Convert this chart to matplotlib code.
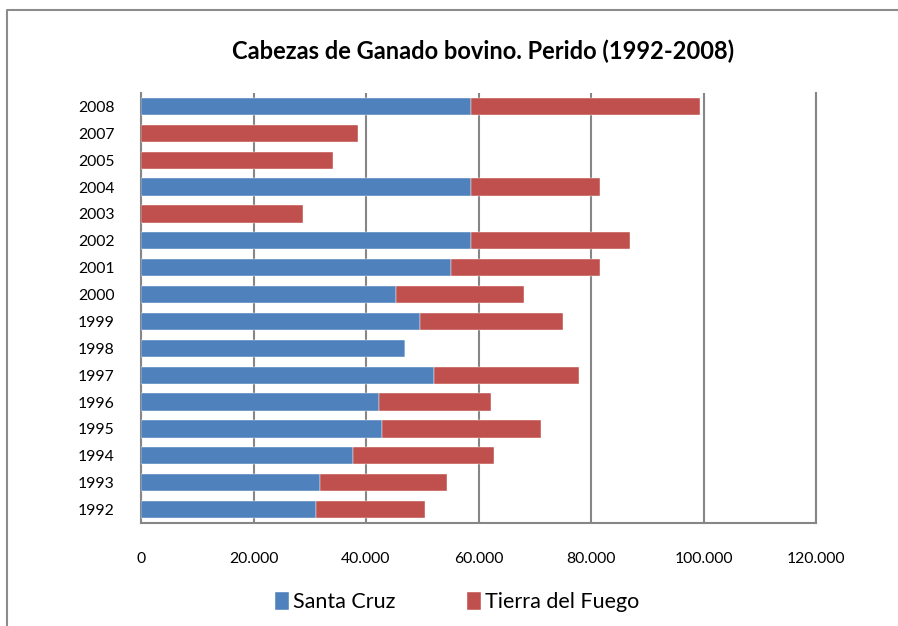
import matplotlib.pyplot as plt
from matplotlib.lines import Line2D

# data
years = ['1992', '1993', '1994', '1995', '1996', '1997', '1998', '1999',
         '2000', '2001', '2002', '2003', '2004', '2005', '2007', '2008']
santa_cruz = [31100, 31800, 37700, 42800, 42300, 52100, 46900, 49600,
              45300, 55100, 58700, 0, 58700, 0, 0, 58700]
tierra_fuego = [19400, 22600, 25100, 28300, 19900, 25800, 0, 25400,
                22800, 26500, 28200, 28800, 22900, 34100, 38600, 40700]

blue = '#4F81BD'
red = '#C0504D'
grid_col = '#868686'

plt.rcParams['font.family'] = ['Lato', 'DejaVu Sans']

fig = plt.figure(figsize=(8.98, 6.26), dpi=100)
ax = fig.add_axes([141 / 898, 1 - 523 / 626, (816 - 141) / 898, (523 - 93) / 626])

# outer chart frame (only top and left edges are inside the picture)
fx, fy = 7 / 898, 1 - 10 / 626
fig.lines.append(Line2D([fx, fx, 1.0], [0, fy, fy], transform=fig.transFigure,
                        color='#8c8c8c', linewidth=1.5))

pos = range(len(years))
ax.barh(pos, santa_cruz, height=0.64, color=blue, label='Santa Cruz',
        edgecolor='white', linewidth=0.3, zorder=3)
ax.barh(pos, tierra_fuego, height=0.64, left=santa_cruz, color=red,
        label='Tierra del Fuego', edgecolor='white', linewidth=0.3, zorder=3)

ax.set_xlim(0, 120000)
ax.set_ylim(-0.5, len(years) - 0.5)
ax.set_yticks(list(pos))
ax.set_yticklabels(years)
xt = [0, 20000, 40000, 60000, 80000, 100000, 120000]
ax.set_xticks(xt)
ax.set_xticklabels(['0'] + [f'{v:,}'.replace(',', '.') for v in xt[1:]])
ax.tick_params(axis='both', length=0, labelsize=11.3, colors='black')
ax.tick_params(axis='x', pad=21)
ax.tick_params(axis='y', pad=19)

ax.grid(axis='x', color=grid_col, linewidth=1.5, zorder=0)
ax.spines['top'].set_visible(False)
for s in ['left', 'bottom', 'right']:
    ax.spines[s].set_color(grid_col)
    ax.spines[s].set_linewidth(1.5)

fig.text(483 / 898, 1 - 51 / 626, 'Cabezas de Ganado bovino. Perido (1992-2008)',
         ha='center', va='center', fontsize=17, fontweight='bold')

fig.legend(loc='center', bbox_to_anchor=(457 / 898, 1 - 602 / 626), ncol=2,
           frameon=False, fontsize=15.5, handlelength=0.65, handleheight=0.9,
           handletextpad=0.2, columnspacing=3.3)

fig.savefig('out.png', dpi=100)
